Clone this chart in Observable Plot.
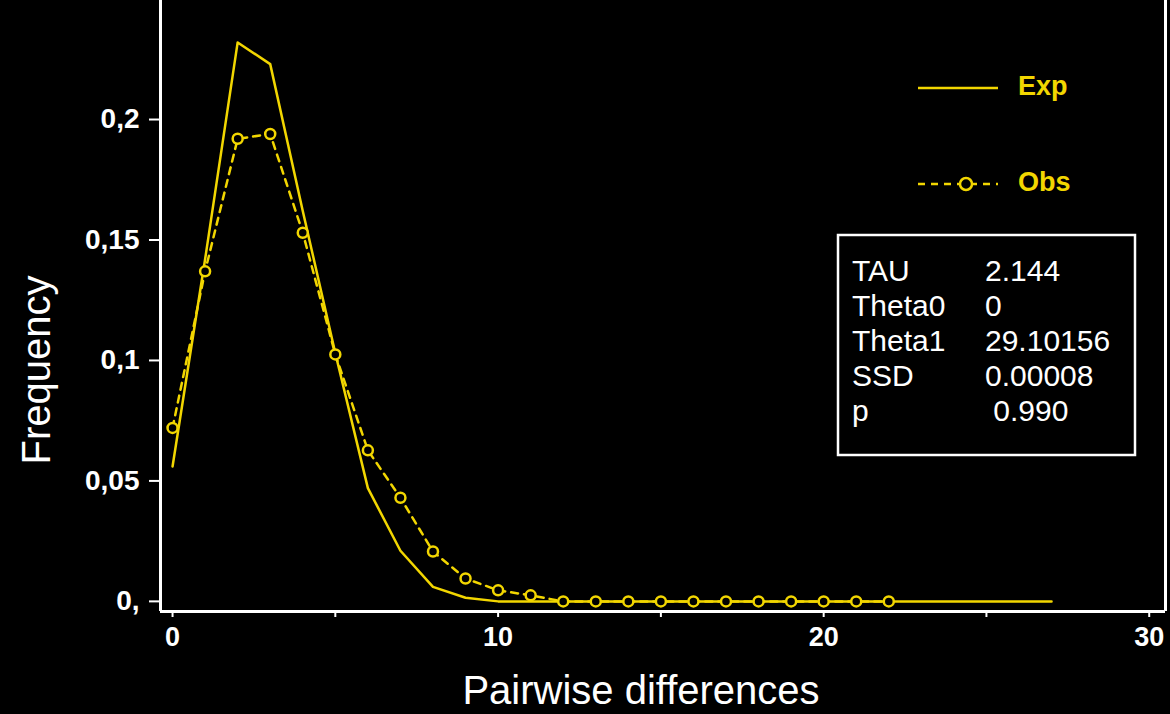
<!DOCTYPE html>
<html>
<head>
<meta charset="utf-8">
<script src="https://cdn.jsdelivr.net/npm/d3@7"></script>
<script src="https://cdn.jsdelivr.net/npm/@observablehq/plot@0.6"></script>
<style>
  html, body { margin: 0; padding: 0; background: #000; }
  #wrap { position: relative; width: 1170px; height: 714px; overflow: hidden; background: #000; }
  #overlay { position: absolute; left: 0; top: 0; pointer-events: none; }
</style>
</head>
<body>
<div id="wrap"></div>
<script>
// ---- data ----
const expDiffs = [0,1,2,3,4,5,6,7,8,9,10,11,12,13,14,15,16,17,18,19,20,21,22,23,24,25,26,27];
const expFreq  = [0.056,0.142,0.232,0.223,0.162,0.103,0.047,0.021,0.006,0.0015,0,0,0,0,0,0,0,0,0,0,0,0,0,0,0,0,0,0];
const obsDiffs = [0,1,2,3,4,5,6,7,8,9,10,11,12,13,14,15,16,17,18,19,20,21,22];
const obsFreq  = [0.072,0.137,0.192,0.194,0.153,0.1025,0.0627,0.043,0.0207,0.0095,0.0046,0.0025,0,0,0,0,0,0,0,0,0,0,0];
const xTicks = [0,5,10,15,20,25,30];
const xTickLabels = ["0","","10","","20","","30"];
const yTicks = [0,0.05,0.1,0.15,0.2];
const yTickLabels = ["0,","0,05","0,1","0,15","0,2"];
const statNames  = ["TAU","Theta0","Theta1","SSD","p"];
const statValues = ["2.144","0","29.10156","0.00008"," 0.990"];
const seriesNames = ["Exp","Obs"];
const xLabel = "Pairwise differences";
const yLabel = "Frequency";

const YELLOW = "#f2d600";
const xDomain = [-0.37, 30.5];
const yDomain = [-0.0042, 0.2494];

const expData = expDiffs.map((d,i)=>({x:d, y:expFreq[i]}));
const obsData = obsDiffs.map((d,i)=>({x:d, y:obsFreq[i]}));

const chart = Plot.plot({
  width: 1170, height: 714,
  marginLeft: 160, marginRight: 5, marginTop: 0, marginBottom: 103,
  style: {background: "#000", color: "#fff", fontFamily: "'Liberation Sans', Arial, sans-serif"},
  x: {domain: xDomain},
  y: {domain: yDomain},
  marks: [
    Plot.axisX({ticks: xTicks, tickFormat: d => xTickLabels[xTicks.indexOf(d)], tickSize: 6, tickPadding: 9,
                fontSize: 27, fontWeight: "bold", stroke: "#fff", strokeWidth: 2, fill: "#fff", label: null}),
    Plot.axisY({ticks: yTicks, tickFormat: d => yTickLabels[yTicks.indexOf(d)], tickSize: 11, tickPadding: 10,
                fontSize: 28, fontWeight: "bold", stroke: "#fff", strokeWidth: 2, fill: "#fff", label: null}),
    Plot.ruleY([yDomain[0]], {stroke: "#fff", strokeWidth: 3}),
    Plot.ruleX(xDomain, {stroke: "#fff", strokeWidth: 3}),
    Plot.line(obsData, {x: "x", y: "y", stroke: YELLOW, strokeWidth: 2.5, strokeDasharray: "7,6"}),
    Plot.line(expData, {x: "x", y: "y", stroke: YELLOW, strokeWidth: 2.5}),
    Plot.dot(obsData, {x: "x", y: "y", r: 5, stroke: YELLOW, strokeWidth: 2.5, fill: "#000"}),
    Plot.text([xLabel], {frameAnchor: "bottom", dy: 80, dx: -22, fontSize: 40, fill: "#fff", lineAnchor: "middle"})
  ]
});
const wrap = document.getElementById("wrap");
wrap.appendChild(chart);

// ---- legend, y title and statistics box overlay ----
const ov = d3.select(wrap).append("svg").attr("id","overlay").attr("width",1170).attr("height",714)
  .style("font-family","'Liberation Sans', Arial, sans-serif");
ov.append("text").attr("transform","translate(36,370) rotate(-90)").attr("text-anchor","middle")
  .attr("dy","0.35em").attr("fill","#fff").attr("font-size",40).text(yLabel);
// legend
ov.append("line").attr("x1",918).attr("x2",998).attr("y1",88).attr("y2",88)
  .attr("stroke",YELLOW).attr("stroke-width",2.5);
ov.append("line").attr("x1",918).attr("x2",998).attr("y1",184).attr("y2",184)
  .attr("stroke",YELLOW).attr("stroke-width",2.5).attr("stroke-dasharray","7,6");
ov.append("circle").attr("cx",966).attr("cy",184).attr("r",6).attr("fill","#000")
  .attr("stroke",YELLOW).attr("stroke-width",2.5);
ov.selectAll("text.leg").data(seriesNames).join("text").attr("class","leg")
  .attr("x",1018).attr("y",(d,i)=>86+i*96).attr("dy","0.35em")
  .attr("fill",YELLOW).attr("font-size",27).attr("font-weight","bold").text(d=>d);
// stats box
ov.append("rect").attr("x",838).attr("y",235).attr("width",297).attr("height",220)
  .attr("fill","none").attr("stroke","#fff").attr("stroke-width",2.5);
ov.selectAll("text.sn").data(statNames).join("text").attr("class","sn")
  .attr("x",852).attr("y",(d,i)=>270+i*35).attr("dy","0.35em")
  .attr("fill","#fff").attr("font-size",30).text(d=>d);
ov.selectAll("text.sv").data(statValues).join("text").attr("class","sv")
  .attr("x",985).attr("y",(d,i)=>270+i*35).attr("dy","0.35em")
  .attr("fill","#fff").attr("font-size",30).style("white-space","pre").text(d=>d);
</script>
</body>
</html>
